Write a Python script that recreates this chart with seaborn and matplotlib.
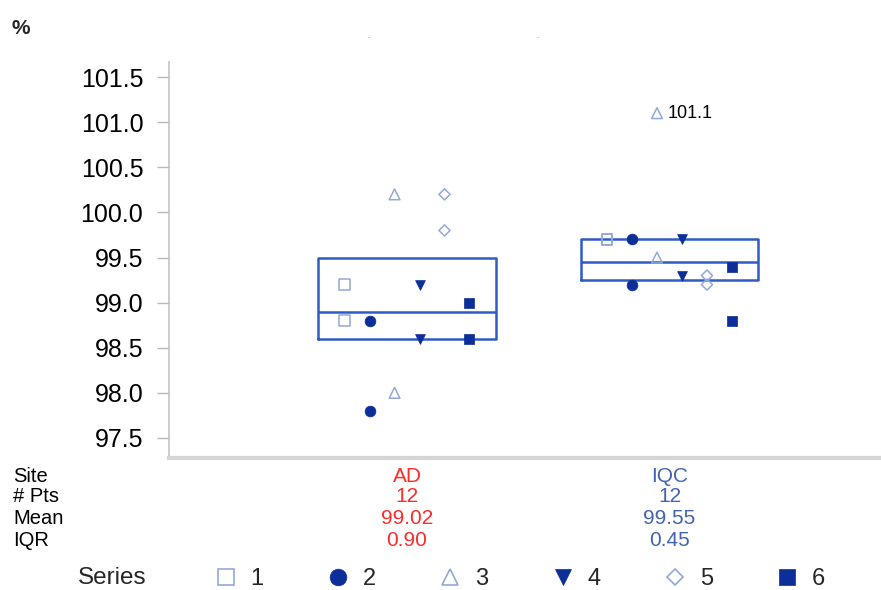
import numpy as np
import pandas as pd
import matplotlib
matplotlib.use("Agg")
import matplotlib.pyplot as plt
from matplotlib.lines import Line2D
import seaborn as sns

# ---------------- data ----------------
sites = ["AD", "IQC"]
series_ids = [1, 2, 3, 4, 5, 6]
ad_values = {1: [99.2, 98.8], 2: [98.8, 97.8], 3: [100.2, 98.0],
             4: [99.2, 98.6], 5: [100.2, 99.8], 6: [99.0, 98.6]}
iqc_values = {1: [99.7, 99.7], 2: [99.7, 99.2], 3: [101.1, 99.5],
              4: [99.7, 99.3], 5: [99.3, 99.2], 6: [99.4, 98.8]}
yticks = [97.5, 98.0, 98.5, 99.0, 99.5, 100.0, 100.5, 101.0, 101.5]
labelled_point = ("IQC", 3, 101.1)

rows = []
for si, (site, vals) in enumerate(zip(sites, [ad_values, iqc_values])):
    for s in series_ids:
        for v in vals[s]:
            rows.append({"site": site, "site_idx": si, "series": s, "value": v})
df = pd.DataFrame(rows)

# ---------------- styling ----------------
sns.set_theme(style="white")
plt.rcParams["font.family"] = ["Liberation Sans", "DejaVu Sans"]

light = "#92a8dc"
dark = "#0b2e98"
box_c = "#2f5cc2"
markers = {1: "s", 2: "o", 3: "^", 4: "v", 5: "D", 6: "s"}
filled = {1: False, 2: True, 3: False, 4: True, 5: False, 6: True}
sizes = {1: 60, 2: 60, 3: 60, 4: 50, 5: 32, 6: 50}
spacing = 0.0952
df["x"] = df["site_idx"] + (df["series"] - 3.5) * spacing

fig = plt.figure(figsize=(8.81, 5.90), dpi=100)
ax = fig.add_axes([169 / 881, 1 - 458 / 590, 1 - 169 / 881, (458 - 62) / 590])

# boxes (quartiles as medians of halves)
stats = []
for site in sites:
    v = np.sort(df.loc[df.site == site, "value"].values)
    q1 = np.percentile(v, 25, method="midpoint")
    q3 = np.percentile(v, 75, method="midpoint")
    med = np.median(v)
    stats.append({"med": med, "q1": q1, "q3": q3, "whislo": q1, "whishi": q3, "fliers": []})
ax.bxp(stats, positions=[0, 1], widths=0.678, showcaps=False, showfliers=False,
       boxprops=dict(color=box_c, linewidth=1.8),
       medianprops=dict(color=box_c, linewidth=1.8),
       whiskerprops=dict(linewidth=0), manage_ticks=False)

for s in series_ids:
    sub = df[df.series == s]
    if filled[s]:
        sns.scatterplot(data=sub, x="x", y="value", marker=markers[s], s=sizes[s],
                        color=dark, edgecolor=dark, linewidth=0.5, ax=ax, zorder=3)
    else:
        sns.scatterplot(data=sub, x="x", y="value", marker=markers[s], s=sizes[s],
                        color=light, facecolor="none", edgecolor=light, linewidth=1.1,
                        ax=ax, zorder=3)

lsite, lser, lval = labelled_point
lx = sites.index(lsite) + (lser - 3.5) * spacing
ax.annotate(f"{lval:.1f}", xy=(lx, lval), xytext=(8, 0), textcoords="offset points",
            va="center", ha="left", fontsize=13, color="black")

ax.set_xlim(-0.907, 1.806)
ax.set_ylim(97.278, 101.667)
ax.set_yticks(yticks)
ax.set_yticklabels([f"{t:.1f}" for t in yticks], fontsize=18, color="black")
ax.set_xticks([])
ax.set_xlabel("")
ax.set_ylabel("")
ax.tick_params(axis="y", left=True, length=8.5, width=1, color="#b8b8b8", pad=10)
for sp in ["top", "right"]:
    ax.spines[sp].set_visible(False)
ax.spines["left"].set_color("#c4c4c4")
ax.spines["left"].set_linewidth(1.2)
ax.spines["bottom"].set_color("#d6d6d6")
ax.spines["bottom"].set_linewidth(3)

fig.text(12 / 881, 1 - 28 / 590, "%", fontsize=15, fontweight="bold", va="center", ha="left")
fig.text(369 / 881, 1 - 38 / 590, "-", fontsize=5, color="#a0a0a0", ha="center", va="center")
fig.text(538 / 881, 1 - 38 / 590, "-", fontsize=5, color="#a0a0a0", ha="center", va="center")

# summary table
site_colors = ["#ff2b2b", "#4262b2"]
row_labels = ["Site", "# Pts", "Mean", "IQR"]
row_y = [476, 497, 519, 540]
centers_px = [407, 669.5]
for lab, yy in zip(row_labels, row_y):
    fig.text(13 / 881, 1 - yy / 590, lab, fontsize=14.5, va="center", ha="left", color="black")
for si, site in enumerate(sites):
    v = df.loc[df.site == site, "value"].values
    st = stats[si]
    vals = [site, f"{len(v)}", f"{v.mean():.2f}", f"{st['q3'] - st['q1']:.2f}"]
    for txt, yy in zip(vals, row_y):
        fig.text(centers_px[si] / 881, 1 - yy / 590, txt, fontsize=15, va="center",
                 ha="center", color=site_colors[si])

# legend
fig.text(78 / 881, 1 - 578 / 590, "Series", fontsize=17.5, va="center", ha="left")
handles = []
for s in series_ids:
    c = dark if filled[s] else light
    handles.append(Line2D([], [], linestyle="none", marker=markers[s],
                          markersize=12 if markers[s] != "D" else 8.5,
                          markerfacecolor=c if filled[s] else "none",
                          markeredgecolor=c, markeredgewidth=1.2 if not filled[s] else 0.5))
fig.legend(handles, [str(s) for s in series_ids], loc="center left",
           bbox_to_anchor=(214 / 881, 1 - 579 / 590), ncol=6, frameon=False,
           fontsize=17, handlelength=1.0, handletextpad=0.55, columnspacing=2.65,
           borderpad=0, borderaxespad=0)

fig.savefig("out.png", dpi=100)
